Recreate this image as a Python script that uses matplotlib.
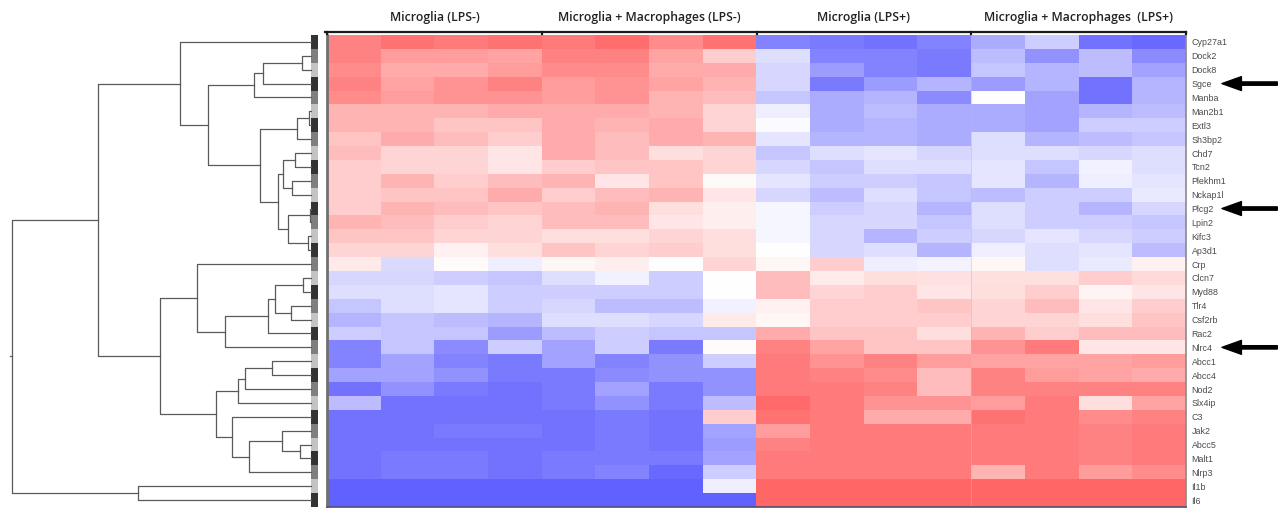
import numpy as np
import matplotlib
matplotlib.use('Agg')
import matplotlib.pyplot as plt
from matplotlib.colors import LinearSegmentedColormap, ListedColormap

# ---- data ----
genes = ['Cyp27a1', 'Dock2', 'Dock8', 'Sgce', 'Manba', 'Man2b1', 'Extl3', 'Sh3bp2',
         'Chd7', 'Tcn2', 'Plekhm1', 'Nckap1l', 'Plcg2', 'Lpin2', 'Kifc3', 'Ap3d1',
         'Crp', 'Clcn7', 'Myd88', 'Tlr4', 'Csf2rb', 'Rac2', 'Nlrc4', 'Abcc1',
         'Abcc4', 'Nod2', 'Slx4ip', 'C3', 'Jak2', 'Abcc5', 'Malt1', 'Nlrp3',
         'Il1b', 'Il6']

groups = ['Microglia (LPS-)', 'Microglia + Macrophages (LPS-)',
          'Microglia (LPS+)', 'Microglia + Macrophages  (LPS+)']

# relative expression, -1 (blue) .. +1 (red), 4 replicates per group
mg_lps_neg = [
    [0.75, 0.85, 0.80, 0.85], [0.75, 0.60, 0.60, 0.55], [0.70, 0.50, 0.50, 0.60],
    [0.75, 0.55, 0.65, 0.75], [0.70, 0.60, 0.65, 0.65], [0.45, 0.45, 0.45, 0.50],
    [0.45, 0.45, 0.35, 0.35], [0.35, 0.50, 0.40, 0.30], [0.40, 0.25, 0.25, 0.15],
    [0.30, 0.25, 0.25, 0.15], [0.30, 0.45, 0.30, 0.40], [0.30, 0.35, 0.35, 0.50],
    [0.30, 0.45, 0.40, 0.35], [0.45, 0.40, 0.30, 0.25], [0.35, 0.35, 0.25, 0.25],
    [0.25, 0.25, 0.08, 0.20], [0.12, -0.22, 0.02, -0.10], [-0.25, -0.25, -0.30, -0.35],
    [-0.20, -0.20, -0.15, -0.30], [-0.35, -0.20, -0.15, -0.30], [-0.45, -0.35, -0.40, -0.45],
    [-0.30, -0.35, -0.35, -0.60], [-0.75, -0.35, -0.70, -0.30], [-0.75, -0.55, -0.75, -0.80],
    [-0.55, -0.55, -0.65, -0.80], [-0.85, -0.65, -0.80, -0.85], [-0.40, -0.85, -0.85, -0.85],
    [-0.85, -0.85, -0.85, -0.85], [-0.85, -0.85, -0.80, -0.80], [-0.85, -0.85, -0.85, -0.85],
    [-0.85, -0.80, -0.80, -0.85], [-0.85, -0.80, -0.80, -0.85], [-0.95, -0.95, -0.95, -0.95],
    [-0.95, -0.95, -0.95, -0.95],
]
mgmac_lps_neg = [
    [0.80, 0.88, 0.70, 0.85], [0.75, 0.75, 0.55, 0.30], [0.70, 0.70, 0.50, 0.50],
    [0.60, 0.65, 0.55, 0.45], [0.60, 0.65, 0.45, 0.40], [0.50, 0.50, 0.45, 0.25],
    [0.50, 0.45, 0.50, 0.25], [0.50, 0.40, 0.50, 0.45], [0.50, 0.40, 0.20, 0.25],
    [0.30, 0.35, 0.35, 0.25], [0.45, 0.15, 0.35, 0.03], [0.30, 0.40, 0.45, 0.15],
    [0.40, 0.45, 0.20, 0.10], [0.40, 0.40, 0.15, 0.10], [0.20, 0.20, 0.25, 0.20],
    [0.35, 0.25, 0.30, 0.20], [0.05, 0.10, 0.00, 0.25], [-0.20, -0.08, -0.30, 0.00],
    [-0.30, -0.30, -0.30, 0.00], [-0.25, -0.40, -0.40, -0.08], [-0.20, -0.20, -0.25, 0.12],
    [-0.40, -0.30, -0.35, -0.35], [-0.55, -0.30, -0.80, 0.02], [-0.55, -0.75, -0.65, -0.30],
    [-0.80, -0.70, -0.65, -0.65], [-0.80, -0.55, -0.80, -0.65], [-0.80, -0.65, -0.80, -0.40],
    [-0.85, -0.80, -0.85, 0.30], [-0.85, -0.80, -0.85, -0.55], [-0.85, -0.80, -0.85, -0.60],
    [-0.80, -0.80, -0.80, -0.55], [-0.80, -0.75, -0.90, -0.30], [-0.95, -0.95, -0.95, -0.10],
    [-0.95, -0.95, -0.95, -0.95],
]
mg_lps_pos = [
    [-0.75, -0.80, -0.85, -0.75], [-0.20, -0.75, -0.75, -0.80], [-0.25, -0.60, -0.75, -0.80],
    [-0.25, -0.80, -0.60, -0.45], [-0.35, -0.50, -0.45, -0.70], [-0.10, -0.50, -0.40, -0.50],
    [-0.03, -0.50, -0.45, -0.50], [-0.15, -0.45, -0.45, -0.50], [-0.35, -0.20, -0.15, -0.25],
    [-0.25, -0.35, -0.20, -0.20], [-0.15, -0.30, -0.30, -0.35], [-0.25, -0.40, -0.20, -0.35],
    [-0.05, -0.30, -0.25, -0.45], [-0.05, -0.25, -0.25, -0.35], [-0.05, -0.25, -0.45, -0.30],
    [0.00, -0.25, -0.20, -0.45], [0.05, 0.30, -0.10, -0.07], [0.40, 0.12, 0.20, 0.18],
    [0.40, 0.25, 0.30, 0.15], [0.08, 0.30, 0.30, 0.35], [0.05, 0.30, 0.30, 0.30],
    [0.50, 0.35, 0.35, 0.20], [0.75, 0.55, 0.35, 0.35], [0.80, 0.65, 0.75, 0.60],
    [0.80, 0.75, 0.70, 0.40], [0.80, 0.80, 0.75, 0.40], [0.90, 0.80, 0.65, 0.65],
    [0.85, 0.80, 0.50, 0.50], [0.60, 0.80, 0.80, 0.80], [0.75, 0.80, 0.80, 0.80],
    [0.80, 0.80, 0.80, 0.80], [0.80, 0.80, 0.80, 0.80], [0.92, 0.92, 0.92, 0.92],
    [0.92, 0.92, 0.92, 0.92],
]
mgmac_lps_pos = [
    [-0.50, -0.30, -0.85, -0.90], [-0.40, -0.65, -0.40, -0.70], [-0.35, -0.45, -0.40, -0.55],
    [-0.60, -0.45, -0.85, -0.45], [0.00, -0.55, -0.85, -0.45], [-0.50, -0.55, -0.45, -0.40],
    [-0.50, -0.55, -0.30, -0.30], [-0.20, -0.45, -0.40, -0.35], [-0.20, -0.20, -0.25, -0.20],
    [-0.15, -0.35, -0.08, -0.20], [-0.15, -0.45, -0.10, -0.15], [-0.40, -0.30, -0.30, -0.12],
    [-0.20, -0.30, -0.45, -0.25], [-0.20, -0.30, -0.30, -0.35], [-0.25, -0.15, -0.25, -0.30],
    [-0.10, -0.20, -0.15, -0.40], [0.05, -0.20, -0.12, 0.08], [0.18, 0.18, 0.30, 0.22],
    [0.20, 0.30, 0.07, 0.15], [0.25, 0.40, 0.15, 0.30], [0.25, 0.25, 0.20, 0.35],
    [0.45, 0.30, 0.40, 0.40], [0.65, 0.80, 0.15, 0.15], [0.55, 0.55, 0.55, 0.60],
    [0.75, 0.60, 0.55, 0.50], [0.75, 0.75, 0.75, 0.75], [0.60, 0.80, 0.20, 0.55],
    [0.85, 0.80, 0.70, 0.75], [0.80, 0.80, 0.75, 0.80], [0.80, 0.80, 0.75, 0.80],
    [0.80, 0.80, 0.75, 0.80], [0.45, 0.80, 0.60, 0.70], [0.92, 0.92, 0.92, 0.92],
    [0.92, 0.92, 0.92, 0.92],
]

marked_genes = ['Sgce', 'Plcg2', 'Nlrc4']

# grey cluster strip next to the dendrogram (0 dark, 1 mid, 2 light)
side_levels = [0, 1, 2, 0, 1, 2, 0, 1, 2, 0, 1, 2, 0, 1, 2, 0, 1,
               2, 0, 1, 2, 0, 1, 2, 0, 1, 2, 0, 1, 2, 0, 1, 2, 0]

# row dendrogram: (child a, child b, height); ids >= 34 are earlier merges
merges = [
    (1, 2, 9.0), (34, 3, 47.7), (35, 4, 57.0), (5, 6, 2.5), (37, 7, 13.7),
    (8, 9, 16.0), (10, 11, 19.3), (39, 40, 27.7), (12, 13, 1.0), (14, 15, 2.7),
    (42, 43, 22.7), (41, 44, 32.7), (38, 45, 51.0), (36, 46, 103.0), (0, 47, 131.0),
    (17, 18, 7.7), (19, 20, 20.3), (49, 50, 36.0), (51, 21, 42.7), (52, 22, 86.0),
    (16, 53, 114.3), (23, 24, 39.3), (55, 25, 66.0), (56, 26, 72.7), (29, 30, 11.0),
    (28, 58, 29.3), (59, 31, 61.7), (27, 60, 79.3), (57, 61, 95.0), (54, 62, 151.0),
    (48, 63, 213.0), (32, 33, 173.0), (64, 65, 299.0),
]

# ---- layout helpers ----
W, H = 1286, 508
fig = plt.figure(figsize=(W / 100, H / 100), dpi=100)


def box(x0, y0, x1, y1):
    return [x0 / W, 1 - y1 / H, (x1 - x0) / W, (y1 - y0) / H]


data = np.hstack([np.array(mg_lps_neg), np.array(mgmac_lps_neg),
                  np.array(mg_lps_pos), np.array(mgmac_lps_pos)])
n_rows, n_cols = data.shape
sizes = [len(mg_lps_neg[0]), len(mgmac_lps_neg[0]), len(mg_lps_pos[0]), len(mgmac_lps_pos[0])]

cmap = LinearSegmentedColormap.from_list('bwr_soft', ['#5a5aff', '#ffffff', '#ff5a5a'])

# ---- heatmap ----
ax = fig.add_axes(box(327, 35, 1186, 507))
ax.imshow(data, cmap=cmap, vmin=-1, vmax=1, aspect='auto', interpolation='nearest')
ax.set_xticks([])
ax.yaxis.tick_right()
ax.set_yticks(np.arange(n_rows))
ax.set_yticklabels(genes, fontsize=6.4, color='#4a4a4a', family='Liberation Sans')
ax.tick_params(axis='y', length=0, pad=4)
ax.spines['top'].set_visible(False)
ax.spines['left'].set_color('#707070')
ax.spines['left'].set_linewidth(2.0)
ax.spines['right'].set_color('#8a8a8a')
ax.spines['right'].set_linewidth(1.2)
ax.spines['bottom'].set_color('#505070')
ax.spines['bottom'].set_linewidth(1.2)
ax.axvline(sum(sizes[:3]) - 0.5, color='#b8b8e0', lw=0.5, alpha=0.7)

for g in marked_genes:
    r = genes.index(g)
    ax.annotate('', xy=(16.17, r), xytext=(17.2, r), xycoords='data',
                annotation_clip=False,
                arrowprops=dict(arrowstyle='simple,head_length=1.4,head_width=1.0,tail_width=0.24',
                                color='black', shrinkA=0, shrinkB=0, mutation_scale=10))

# ---- header with group brackets ----
axh = fig.add_axes(box(327, 0, 1186, 35))
axh.set_xlim(-0.5, n_cols - 0.5)
axh.set_ylim(0, 1)
axh.axis('off')
bounds = np.cumsum([0] + sizes) - 0.5
axh.plot([bounds[0] - 0.04, bounds[-1]], [0.1, 0.1], color='#1a1a1a', lw=1.6, clip_on=False)
for b in bounds:
    axh.plot([b, b], [0.1, 0.02], color='#1a1a1a', lw=1.6, clip_on=False)
for i, name in enumerate(groups):
    axh.text((bounds[i] + bounds[i + 1]) / 2, 0.5, name, ha='center', va='center',
             fontsize=8.8, family='Open Sans', weight='semibold', color='#222222')

# ---- grey side strip ----
axs = fig.add_axes(box(311, 35, 318, 507))
axs.imshow(np.array(side_levels)[:, None], aspect='auto', interpolation='nearest',
           cmap=ListedColormap(['#333333', '#7f7f7f', '#c4c4c4']), vmin=0, vmax=2)
axs.axis('off')

# ---- dendrogram ----
axd = fig.add_axes(box(12, 35, 311, 507))
axd.set_ylim(n_rows - 0.5, -0.5)
axd.set_xlim(299, 0)
axd.axis('off')
pos = {i: (0.0, float(i)) for i in range(n_rows)}
for k, (a, b, h) in enumerate(merges):
    ha, ya = pos[a]
    hb, yb = pos[b]
    axd.plot([ha, h, h, hb], [ya, ya, yb, yb], color='#5a5a5a', lw=0.9, clip_on=False)
    pos[n_rows + k] = (h, (ya + yb) / 2)
root_h, root_y = pos[n_rows + len(merges) - 1]
axd.plot([root_h, root_h + 2.5], [root_y, root_y], color='#5a5a5a', lw=0.9, clip_on=False)

fig.savefig('out.png', dpi=100)
